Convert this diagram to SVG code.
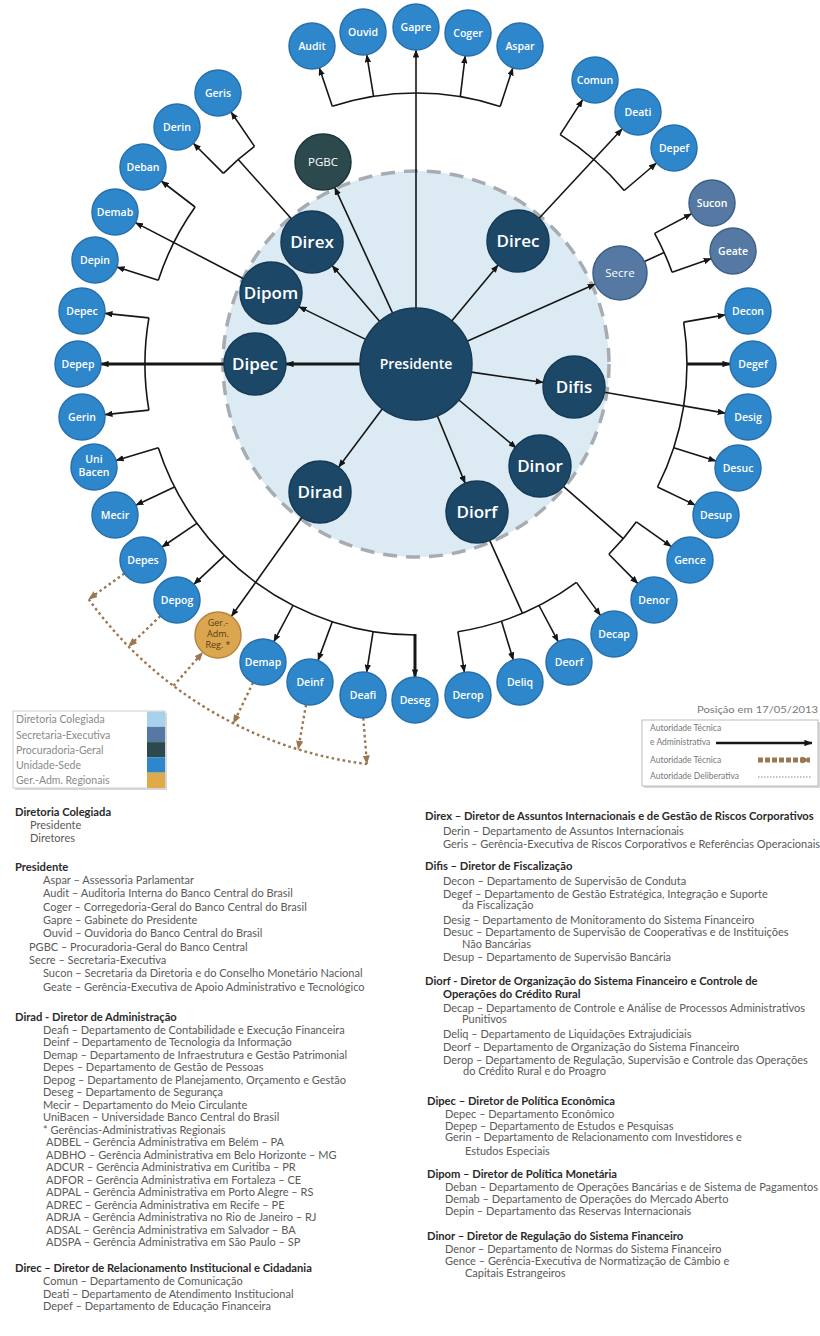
<svg xmlns="http://www.w3.org/2000/svg" width="820" height="1336" viewBox="0 0 820 1336">
<style>
.bg{fill:#ffffff}
.u{fill:#2f87cb;stroke:#2770ad;stroke-width:1.5}
.d{fill:#1c4767;stroke:#163a55;stroke-width:1.5}
.s{fill:#5579a3;stroke:#3f6088;stroke-width:1.5}
.p{fill:#2c4a4e;stroke:#1d3538;stroke-width:1.5}
.g{fill:#dba650;stroke:#b8863a;stroke-width:1.5}
.ut{font-family:"Open Sans",sans-serif;font-weight:600;font-size:10.5px;fill:#ffffff;text-anchor:middle}
.dt{font-family:"Open Sans",sans-serif;font-weight:600;font-size:17px;fill:#ffffff;text-anchor:middle}
.st{font-family:"Open Sans",sans-serif;font-size:11.5px;fill:#ffffff;text-anchor:middle}
.gt{font-family:"Open Sans",sans-serif;font-size:9px;fill:#5a3d14;text-anchor:middle}
.ln{fill:none;stroke:#161616;stroke-width:1.6}
.lt{fill:none;stroke:#161616;stroke-width:3}
.br{fill:none;stroke:#9b7651;stroke-width:2.4;stroke-dasharray:2.6 3}
.h{font-family:Lato,sans-serif;font-weight:bold;font-size:11.2px;fill:#2a2a2a}
.b{font-family:Lato,sans-serif;font-size:11px;fill:#5a5a5a}
.lg{font-family:Lato,sans-serif;font-size:10.5px;fill:#8a8a8a}
.lr{font-family:Lato,sans-serif;font-size:8.5px;fill:#777777}
</style>
<defs>
<marker id="ah" viewBox="0 0 10 8" refX="9.5" refY="4" markerWidth="8" markerHeight="6.4" markerUnits="userSpaceOnUse" orient="auto"><path d="M0,0 L10,4 L0,8 z" fill="#161616"/></marker>
<marker id="ahb" viewBox="0 0 10 8" refX="9.5" refY="4" markerWidth="9" markerHeight="7.2" markerUnits="userSpaceOnUse" orient="auto"><path d="M0,0 L10,4 L0,8 z" fill="#9b7651"/></marker>
</defs>
<rect class="bg" x="0" y="0" width="820" height="1336"/>
<g id="collegiate-area">
<circle cx="416" cy="364" r="193" fill="#dcebf3" stroke="#a7acb2" stroke-width="3.5" stroke-dasharray="14 9"/>
</g>

<g id="connectors">
<line class="ln" x1="416" y1="308" x2="416" y2="50" marker-end="url(#ah)"/>
<line class="ln" x1="392.6" y1="313.1" x2="334.7" y2="187.4" marker-end="url(#ah)"/>
<line class="ln" x1="379.7" y1="321.4" x2="332.1" y2="265.6" marker-end="url(#ah)"/>
<line class="ln" x1="365.7" y1="339.4" x2="298.8" y2="306.6" marker-end="url(#ah)"/>
<line class="lt" x1="360" y1="364" x2="286" y2="364" marker-end="url(#ah)"/>
<line class="ln" x1="382.4" y1="408.8" x2="338.6" y2="467.2" marker-end="url(#ah)"/>
<line class="ln" x1="437.3" y1="415.8" x2="465.2" y2="483.4" marker-end="url(#ah)"/>
<line class="ln" x1="458.9" y1="400" x2="516.3" y2="448.1" marker-end="url(#ah)"/>
<line class="ln" x1="471.4" y1="372.1" x2="543.3" y2="382.5" marker-end="url(#ah)"/>
<line class="ln" x1="467.1" y1="341.2" x2="595.3" y2="284" marker-end="url(#ah)"/>
<line class="ln" x1="451.7" y1="320.9" x2="498.2" y2="264.9" marker-end="url(#ah)"/>
<path class="ln" d="M332.3,106.3 A271,271 0 0 1 500.2,106.4"/>
<line class="ln" x1="332.3" y1="106.3" x2="319.3" y2="67.8" marker-end="url(#ah)"/>
<line class="ln" x1="373.6" y1="96.3" x2="366.7" y2="54.7" marker-end="url(#ah)"/>
<line class="ln" x1="460.3" y1="96.6" x2="465.2" y2="55.8" marker-end="url(#ah)"/>
<line class="ln" x1="500.2" y1="106.4" x2="512.8" y2="67.9" marker-end="url(#ah)"/>
<line class="ln" x1="539.1" y1="218.3" x2="622.3" y2="128.8" marker-end="url(#ah)"/>
<path class="ln" d="M560.2,134.6 A271,271 0 0 1 624.2,190.5"/>
<line class="ln" x1="560.2" y1="134.6" x2="582.7" y2="99.6" marker-end="url(#ah)"/>
<line class="ln" x1="624.2" y1="190.5" x2="656.5" y2="163" marker-end="url(#ah)"/>
<line class="ln" x1="644.5" y1="261.6" x2="664.1" y2="252.5"/>
<path class="ln" d="M654.6,233.4 A272,272 0 0 1 672.1,272.3"/>
<line class="ln" x1="654.6" y1="233.4" x2="691.6" y2="213.7" marker-end="url(#ah)"/>
<line class="ln" x1="672.1" y1="272.3" x2="711.3" y2="258.6" marker-end="url(#ah)"/>
<line class="ln" x1="604.5" y1="392.3" x2="725.3" y2="413.1" marker-end="url(#ah)"/>
<path class="ln" d="M683.7,322.1 A271,271 0 0 1 657.5,487"/>
<line class="ln" x1="683.7" y1="322.1" x2="725.3" y2="314.9" marker-end="url(#ah)"/>
<line class="lt" x1="687" y1="364" x2="730" y2="364" marker-end="url(#ah)"/>
<line class="ln" x1="673.7" y1="447.7" x2="716" y2="461.1" marker-end="url(#ah)"/>
<line class="ln" x1="657.5" y1="487" x2="695.3" y2="505.1" marker-end="url(#ah)"/>
<line class="ln" x1="563.4" y1="486.3" x2="623.2" y2="538.6"/>
<path class="ln" d="M636.4,521.8 A271,271 0 0 1 608.9,554.3"/>
<line class="ln" x1="636.4" y1="521.8" x2="671.3" y2="546.6" marker-end="url(#ah)"/>
<line class="ln" x1="608.9" y1="554.3" x2="637.9" y2="583.6" marker-end="url(#ah)"/>
<line class="ln" x1="489.7" y1="540.3" x2="522.4" y2="613.2"/>
<path class="ln" d="M457.9,631.7 A271,271 0 0 0 576.4,582.4"/>
<line class="ln" x1="576.4" y1="582.4" x2="600.5" y2="615.4" marker-end="url(#ah)"/>
<line class="ln" x1="539" y1="605.5" x2="558.2" y2="641.7" marker-end="url(#ah)"/>
<line class="ln" x1="501.5" y1="621.2" x2="513.3" y2="660" marker-end="url(#ah)"/>
<line class="ln" x1="457.9" y1="631.7" x2="464.4" y2="672.3" marker-end="url(#ah)"/>
<path class="ln" d="M158.3,447.7 A271,271 0 0 0 415.1,635"/>
<line class="ln" x1="158.3" y1="447.7" x2="116" y2="460.5" marker-end="url(#ah)"/>
<line class="ln" x1="174.5" y1="487" x2="135.8" y2="505.2" marker-end="url(#ah)"/>
<line class="ln" x1="196.8" y1="523.3" x2="162" y2="547" marker-end="url(#ah)"/>
<line class="ln" x1="224.4" y1="555.6" x2="193.8" y2="584.3" marker-end="url(#ah)"/>
<line class="ln" x1="293" y1="605.5" x2="273.8" y2="641.7" marker-end="url(#ah)"/>
<line class="ln" x1="332.3" y1="621.7" x2="318" y2="660.4" marker-end="url(#ah)"/>
<line class="ln" x1="373.1" y1="631.6" x2="366.6" y2="672.3" marker-end="url(#ah)"/>
<line class="lt" x1="415" y1="634" x2="415" y2="677" marker-end="url(#ah)"/>
<line class="ln" x1="302" y1="517.2" x2="231.4" y2="616.3" marker-end="url(#ah)"/>
<line class="lt" x1="224" y1="364" x2="101" y2="364" marker-end="url(#ah)"/>
<path class="ln" d="M148.9,317.9 A271,271 0 0 0 148.9,410.1"/>
<line class="ln" x1="148.9" y1="317.9" x2="104.9" y2="313.4" marker-end="url(#ah)"/>
<line class="ln" x1="148.9" y1="410.1" x2="104.9" y2="414.6" marker-end="url(#ah)"/>
<line class="ln" x1="243.5" y1="278.7" x2="135.4" y2="222.6" marker-end="url(#ah)"/>
<path class="ln" d="M195.1,207 A271,271 0 0 0 158.3,280.3"/>
<line class="ln" x1="195.1" y1="207" x2="161.2" y2="181" marker-end="url(#ah)"/>
<line class="ln" x1="158.3" y1="280.3" x2="116.9" y2="267" marker-end="url(#ah)"/>
<line class="ln" x1="291.4" y1="218.8" x2="238.2" y2="159.5"/>
<path class="ln" d="M223.4,173.4 A271,271 0 0 1 254.5,146.4"/>
<line class="ln" x1="223.4" y1="173.4" x2="193.3" y2="143.3" marker-end="url(#ah)"/>
<line class="ln" x1="254.5" y1="146.4" x2="231" y2="112" marker-end="url(#ah)"/>
<path class="br" d="M88.7,599.2 A403,403 0 0 0 366.9,764"/>
<line class="br" x1="124.4" y1="573.5" x2="88.7" y2="599.2" marker-end="url(#ahb)"/>
<line class="br" x1="160.4" y1="616" x2="128.6" y2="646.5" marker-end="url(#ahb)"/>
<line class="br" x1="173.5" y1="685.8" x2="202.8" y2="652.3" marker-end="url(#ahb)"/>
<line class="br" x1="253" y1="682.7" x2="233.4" y2="723.3" marker-end="url(#ahb)"/>
<line class="br" x1="306" y1="704.7" x2="298.2" y2="749.4" marker-end="url(#ahb)"/>
<line class="br" x1="363.3" y1="718" x2="366.9" y2="764" marker-end="url(#ahb)"/>
</g>

<g id="presidente"><circle class="d" cx="416" cy="364" r="56"/><text x="416" y="369" font-family="Open Sans, sans-serif" font-weight="600" font-size="14" fill="#fff" text-anchor="middle">Presidente</text></g>
<g id="direx"><circle class="d" cx="312" cy="242" r="31"/><text class="dt" x="312" y="248">Direx</text></g>
<g id="direc"><circle class="d" cx="518" cy="241" r="31"/><text class="dt" x="518" y="247">Direc</text></g>
<g id="dipom"><circle class="d" cx="271" cy="293" r="31"/><text class="dt" x="271" y="299">Dipom</text></g>
<g id="dipec"><circle class="d" cx="255" cy="364" r="31"/><text class="dt" x="255" y="370">Dipec</text></g>
<g id="difis"><circle class="d" cx="574" cy="387" r="31"/><text class="dt" x="574" y="393">Difis</text></g>
<g id="dinor"><circle class="d" cx="540" cy="466" r="31"/><text class="dt" x="540" y="472">Dinor</text></g>
<g id="dirad"><circle class="d" cx="320" cy="492" r="31"/><text class="dt" x="320" y="498">Dirad</text></g>
<g id="diorf"><circle class="d" cx="477" cy="512" r="31"/><text class="dt" x="477" y="518">Diorf</text></g>
<g id="pgbc"><circle class="p" cx="323" cy="162" r="28"/><text class="st" x="323" y="166" font-size="12">PGBC</text></g>
<g id="secre"><circle class="s" cx="620" cy="273" r="27"/><text class="st" x="620" y="277">Secre</text></g>
<g id="sucon"><circle class="s" cx="712" cy="203" r="23"/><text class="ut" x="712" y="207">Sucon</text></g>
<g id="geate"><circle class="s" cx="733" cy="251" r="23"/><text class="ut" x="733" y="255">Geate</text></g>
<g id="geradm"><circle class="g" cx="218" cy="635" r="23"/><text class="gt" x="218" y="626">Ger.-</text><text class="gt" x="218" y="637">Adm.</text><text class="gt" x="218" y="648">Reg. *</text></g>

<g id="audit"><circle class="u" cx="312" cy="46" r="23"/><text class="ut" x="312" y="50">Audit</text></g>
<g id="ouvid"><circle class="u" cx="363" cy="32" r="23"/><text class="ut" x="363" y="36">Ouvid</text></g>
<g id="gapre"><circle class="u" cx="416" cy="27" r="23"/><text class="ut" x="416" y="31">Gapre</text></g>
<g id="coger"><circle class="u" cx="468" cy="33" r="23"/><text class="ut" x="468" y="37">Coger</text></g>
<g id="aspar"><circle class="u" cx="520" cy="46" r="23"/><text class="ut" x="520" y="50">Aspar</text></g>
<g id="comun"><circle class="u" cx="595" cy="80" r="23"/><text class="ut" x="595" y="84">Comun</text></g>
<g id="deati"><circle class="u" cx="638" cy="112" r="23"/><text class="ut" x="638" y="116">Deati</text></g>
<g id="depef"><circle class="u" cx="674" cy="148" r="23"/><text class="ut" x="674" y="152">Depef</text></g>
<g id="decon"><circle class="u" cx="748" cy="311" r="23"/><text class="ut" x="748" y="315">Decon</text></g>
<g id="degef"><circle class="u" cx="753" cy="364" r="23"/><text class="ut" x="753" y="368">Degef</text></g>
<g id="desig"><circle class="u" cx="748" cy="417" r="23"/><text class="ut" x="748" y="421">Desig</text></g>
<g id="desuc"><circle class="u" cx="738" cy="468" r="23"/><text class="ut" x="738" y="472">Desuc</text></g>
<g id="desup"><circle class="u" cx="716" cy="515" r="23"/><text class="ut" x="716" y="519">Desup</text></g>
<g id="gence"><circle class="u" cx="690" cy="560" r="23"/><text class="ut" x="690" y="564">Gence</text></g>
<g id="denor"><circle class="u" cx="654" cy="600" r="23"/><text class="ut" x="654" y="604">Denor</text></g>
<g id="decap"><circle class="u" cx="614" cy="634" r="23"/><text class="ut" x="614" y="638">Decap</text></g>
<g id="deorf"><circle class="u" cx="569" cy="662" r="23"/><text class="ut" x="569" y="666">Deorf</text></g>
<g id="deliq"><circle class="u" cx="520" cy="682" r="23"/><text class="ut" x="520" y="686">Deliq</text></g>
<g id="derop"><circle class="u" cx="468" cy="695" r="23"/><text class="ut" x="468" y="699">Derop</text></g>
<g id="deseg"><circle class="u" cx="415" cy="700" r="23"/><text class="ut" x="415" y="704">Deseg</text></g>
<g id="deafi"><circle class="u" cx="363" cy="695" r="23"/><text class="ut" x="363" y="699">Deafi</text></g>
<g id="deinf"><circle class="u" cx="310" cy="682" r="23"/><text class="ut" x="310" y="686">Deinf</text></g>
<g id="demap"><circle class="u" cx="263" cy="662" r="23"/><text class="ut" x="263" y="666">Demap</text></g>
<g id="depog"><circle class="u" cx="177" cy="600" r="23"/><text class="ut" x="177" y="604">Depog</text></g>
<g id="depes"><circle class="u" cx="143" cy="560" r="23"/><text class="ut" x="143" y="564">Depes</text></g>
<g id="mecir"><circle class="u" cx="115" cy="515" r="23"/><text class="ut" x="115" y="519">Mecir</text></g>
<g id="unibacen"><circle class="u" cx="94" cy="467" r="23"/><text class="ut" x="94" y="463" font-size="8.5">Uni</text><text class="ut" x="94" y="476" font-size="8.5">Bacen</text></g>
<g id="gerin"><circle class="u" cx="82" cy="417" r="23"/><text class="ut" x="82" y="421">Gerin</text></g>
<g id="depep"><circle class="u" cx="78" cy="364" r="23"/><text class="ut" x="78" y="368">Depep</text></g>
<g id="depec"><circle class="u" cx="82" cy="311" r="23"/><text class="ut" x="82" y="315">Depec</text></g>
<g id="depin"><circle class="u" cx="95" cy="260" r="23"/><text class="ut" x="95" y="264">Depin</text></g>
<g id="demab"><circle class="u" cx="115" cy="212" r="23"/><text class="ut" x="115" y="216">Demab</text></g>
<g id="deban"><circle class="u" cx="143" cy="167" r="23"/><text class="ut" x="143" y="171">Deban</text></g>
<g id="derin"><circle class="u" cx="177" cy="127" r="23"/><text class="ut" x="177" y="131">Derin</text></g>
<g id="geris"><circle class="u" cx="218" cy="93" r="23"/><text class="ut" x="218" y="97">Geris</text></g>

<g id="legend-colors">
<rect x="15" y="713" width="152" height="77" fill="#d8d8d8"/>
<rect x="13" y="711" width="152" height="77" fill="#ffffff" stroke="#cfcfcf" stroke-width="1"/>
<rect x="147" y="711.5" width="18" height="15.3" fill="#a8d2ec"/>
<rect x="147" y="726.8" width="18" height="15.3" fill="#5579a3"/>
<rect x="147" y="742.1" width="18" height="15.3" fill="#2c4a4e"/>
<rect x="147" y="757.4" width="18" height="15.3" fill="#2f87cb"/>
<rect x="147" y="772.7" width="18" height="15.3" fill="#e0aa48"/>
<text class="lg" x="16" y="723">Diretoria Colegiada</text>
<text class="lg" x="16" y="738.5">Secretaria-Executiva</text>
<text class="lg" x="16" y="754">Procuradoria-Geral</text>
<text class="lg" x="16" y="769">Unidade-Sede</text>
<text class="lg" x="16" y="784">Ger.-Adm. Regionais</text>
</g>

<g id="legend-lines">
<text class="lr" x="697" y="713" font-size="10.5" textLength="121" lengthAdjust="spacingAndGlyphs">Posição em 17/05/2013</text>
<rect x="644" y="722" width="176" height="66" fill="#d8d8d8"/>
<rect x="642" y="720" width="176" height="66" fill="#ffffff" stroke="#bdbdbd" stroke-width="1"/>
<text class="lr" x="650" y="731">Autoridade Técnica</text>
<text class="lr" x="650" y="745">e Administrativa</text>
<line x1="716" y1="743" x2="812" y2="743" stroke="#161616" stroke-width="2.4" marker-end="url(#ah)"/>
<text class="lr" x="650" y="763">Autoridade Técnica</text>
<line x1="758" y1="760" x2="810" y2="760" stroke="#9b7651" stroke-width="5" stroke-dasharray="5 2" marker-end="url(#ahb)"/>
<text class="lr" x="650" y="779">Autoridade Deliberativa</text>
<line x1="758" y1="777" x2="812" y2="777" stroke="#888" stroke-width="1" stroke-dasharray="1.5 1.5"/>
</g>

<g id="text-left">
<text class="h" x="15" y="816">Diretoria Colegiada</text>
<text class="b" x="30" y="829">Presidente</text>
<text class="b" x="30" y="842">Diretores</text>
<text class="h" x="15" y="871">Presidente</text>
<text class="b" x="43" y="884">Aspar – Assessoria Parlamentar</text>
<text class="b" x="43" y="897">Audit – Auditoria Interna do Banco Central do Brasil</text>
<text class="b" x="43" y="911">Coger – Corregedoria-Geral do Banco Central do Brasil</text>
<text class="b" x="43" y="924">Gapre – Gabinete do Presidente</text>
<text class="b" x="43" y="937">Ouvid – Ouvidoria do Banco Central do Brasil</text>
<text class="b" x="29" y="951" fill="#3a3a3a">PGBC – Procuradoria-Geral do Banco Central</text>
<text class="b" x="29" y="964" fill="#3a3a3a">Secre – Secretaria-Executiva</text>
<text class="b" x="43" y="977">Sucon  – Secretaria da Diretoria e do Conselho Monetário Nacional</text>
<text class="b" x="43" y="991">Geate  – Gerência-Executiva de Apoio Administrativo e Tecnológico</text>
<text class="h" x="15" y="1021">Dirad - Diretor de Administração</text>
<text class="b" x="43" y="1033.5">Deafi – Departamento de Contabilidade e Execução Financeira</text>
<text class="b" x="43" y="1046">Deinf – Departamento de Tecnologia da Informação</text>
<text class="b" x="43" y="1058.5">Demap – Departamento de Infraestrutura e Gestão Patrimonial</text>
<text class="b" x="43" y="1071">Depes – Departamento de Gestão de Pessoas</text>
<text class="b" x="43" y="1083.5">Depog – Departamento de Planejamento, Orçamento e Gestão</text>
<text class="b" x="43" y="1096">Deseg – Departamento de Segurança</text>
<text class="b" x="43" y="1108.5">Mecir – Departamento do Meio Circulante</text>
<text class="b" x="43" y="1121">UniBacen – Universidade Banco Central do Brasil</text>
<text class="b" x="43" y="1133.5">* Gerências-Administrativas Regionais</text>
<text class="b" x="46" y="1146">ADBEL  – Gerência Administrativa em Belém – PA</text>
<text class="b" x="46" y="1158.5">ADBHO – Gerência Administrativa em Belo Horizonte – MG</text>
<text class="b" x="46" y="1171">ADCUR – Gerência Administrativa em Curitiba – PR</text>
<text class="b" x="46" y="1183.5">ADFOR – Gerência Administrativa em Fortaleza – CE</text>
<text class="b" x="46" y="1196">ADPAL – Gerência Administrativa em Porto Alegre – RS</text>
<text class="b" x="46" y="1208.5">ADREC – Gerência Administrativa em Recife – PE</text>
<text class="b" x="46" y="1221">ADRJA – Gerência Administrativa no Rio de Janeiro – RJ</text>
<text class="b" x="46" y="1233.5">ADSAL – Gerência Administrativa em Salvador – BA</text>
<text class="b" x="46" y="1246">ADSPA – Gerência Administrativa em São Paulo – SP</text>
<text class="h" x="15" y="1272">Direc – Diretor de Relacionamento Institucional e Cidadania</text>
<text class="b" x="43" y="1285">Comun – Departamento de Comunicação</text>
<text class="b" x="43" y="1297.5">Deati – Departamento de Atendimento Institucional</text>
<text class="b" x="43" y="1310">Depef – Departamento de Educação Financeira</text>
</g>

<g id="text-right">
<text class="h" x="425" y="820">Direx – Diretor de Assuntos Internacionais e de Gestão de Riscos Corporativos</text>
<text class="b" x="443" y="835">Derin – Departamento de Assuntos Internacionais</text>
<text class="b" x="443" y="848">Geris – Gerência-Executiva de Riscos Corporativos e Referências Operacionais</text>
<text class="h" x="425" y="870">Difis – Diretor de Fiscalização</text>
<text class="b" x="443" y="885">Decon – Departamento de Supervisão de Conduta</text>
<text class="b" x="443" y="898">Degef – Departamento de Gestão Estratégica, Integração e Suporte</text>
<text class="b" x="462" y="909">da Fiscalização</text>
<text class="b" x="443" y="924">Desig – Departamento de Monitoramento do Sistema Financeiro</text>
<text class="b" x="443" y="936">Desuc – Departamento de Supervisão de Cooperativas e de Instituições</text>
<text class="b" x="462" y="948">Não Bancárias</text>
<text class="b" x="443" y="961">Desup – Departamento de Supervisão Bancária</text>
<text class="h" x="425" y="985">Diorf - Diretor de Organização do Sistema Financeiro e Controle de</text>
<text class="h" x="443" y="998">Operações do Crédito Rural</text>
<text class="b" x="443" y="1012">Decap – Departamento de Controle e Análise de Processos Administrativos</text>
<text class="b" x="462" y="1023">Punitivos</text>
<text class="b" x="443" y="1038">Deliq – Departamento de Liquidações Extrajudiciais</text>
<text class="b" x="443" y="1051">Deorf – Departamento de Organização do Sistema Financeiro</text>
<text class="b" x="443" y="1064">Derop – Departamento de Regulação, Supervisão e Controle das Operações</text>
<text class="b" x="463" y="1075">do Crédito Rural e do Proagro</text>
<text class="h" x="427" y="1105">Dipec – Diretor de Política Econômica</text>
<text class="b" x="445" y="1118">Depec – Departamento Econômico</text>
<text class="b" x="445" y="1130">Depep – Departamento de Estudos e Pesquisas</text>
<text class="b" x="445" y="1141">Gerin – Departamento de Relacionamento com Investidores e</text>
<text class="b" x="465" y="1155">Estudos Especiais</text>
<text class="h" x="427" y="1178">Dipom – Diretor de Política Monetária</text>
<text class="b" x="445" y="1191">Deban – Departamento de Operações Bancárias e de Sistema de Pagamentos</text>
<text class="b" x="445" y="1203">Demab – Departamento de Operações do Mercado Aberto</text>
<text class="b" x="445" y="1215">Depin – Departamento das Reservas Internacionais</text>
<text class="h" x="427" y="1240">Dinor – Diretor de Regulação do Sistema Financeiro</text>
<text class="b" x="445" y="1253">Denor – Departamento de Normas do Sistema Financeiro</text>
<text class="b" x="445" y="1265">Gence – Gerência-Executiva de Normatização de Câmbio e</text>
<text class="b" x="465" y="1277">Capitais Estrangeiros</text>
</g>
</svg>
